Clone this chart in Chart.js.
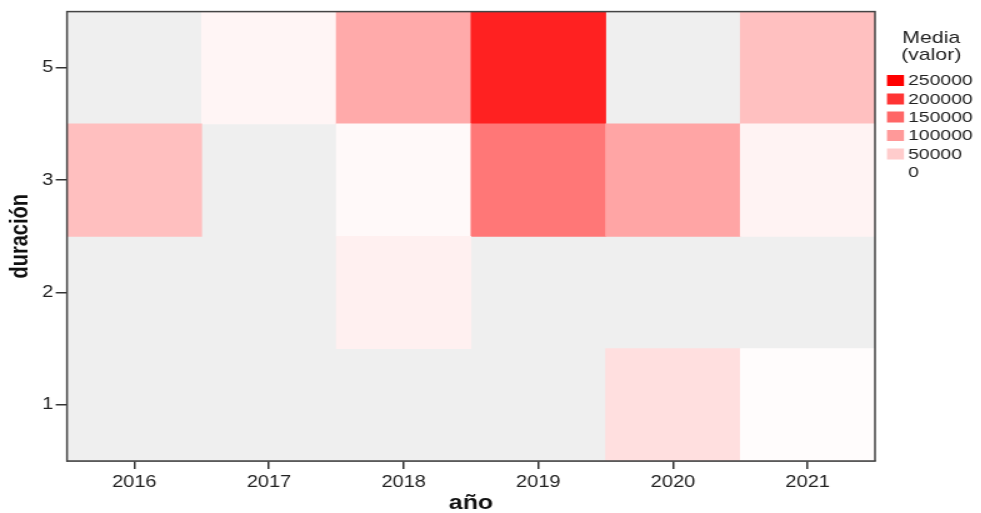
<!DOCTYPE html>
<html><head><meta charset="utf-8">
<script src="https://cdn.jsdelivr.net/npm/chart.js@4"></script>
<style>
html,body{margin:0;padding:0;background:#fff;overflow:hidden}
#wrap{width:785px;height:513px;transform:scaleX(1.25);transform-origin:0 0}
</style>
</head><body><div id="wrap"><canvas id="c" width="785" height="513" style="width:785px;height:513px"></canvas></div>
<script>
const years = ['2016','2017','2018','2019','2020','2021'];
const durations = ['1','2','3','5'];
// Media (valor) per duration row; null = no data
const dur1 = [null, null, null, null, 31000, 3000];
const dur2 = [null, null, 15000, null, null, null];
const dur3 = [63000, null, 6000, 133000, 88000, 12000];
const dur5 = [null, 10000, 83000, 218000, null, 62000];
const legendValues = [250000, 200000, 150000, 100000, 50000, 0];
const maxValue = 250000;

const rows = [dur1, dur2, dur3, dur5];
function colorFor(v){
  const t = Math.max(0, Math.min(1, v / maxValue));
  const g = Math.round(255 * (1 - t));
  return 'rgb(255,' + g + ',' + g + ')';
}
const datasets = rows.map((vals, r) => ({
  label: durations[r],
  data: vals.map(v => v === null ? null : [r, r + 1]),
  backgroundColor: vals.map(v => v === null ? 'rgba(0,0,0,0)' : colorFor(v)),
  borderWidth: 0,
  barPercentage: 1,
  categoryPercentage: 1,
  grouped: false
}));

const FONT = "'Liberation Sans', Arial, sans-serif";
const bgPlugin = {
  id: 'bg',
  beforeDatasetsDraw(chart){
    const {ctx, chartArea: a} = chart;
    ctx.save(); ctx.fillStyle = '#efefef';
    ctx.fillRect(a.left, a.top, a.right - a.left, a.bottom - a.top);
    ctx.restore();
  },
  afterDraw(chart){
    const {ctx, chartArea: a} = chart;
    ctx.save();
    ctx.strokeStyle = '#444'; ctx.lineWidth = 1.5;
    ctx.strokeRect(a.left, a.top, a.right - a.left, a.bottom - a.top);
    // legend
    ctx.fillStyle = '#222';
    ctx.font = '17px ' + FONT;
    ctx.textAlign = 'center'; ctx.textBaseline = 'middle';
    ctx.fillText('Media', 745, 38);
    ctx.fillText('(valor)', 745, 55);
    ctx.font = '15.5px ' + FONT;
    ctx.textAlign = 'left';
    const ys = [80.5, 99, 117, 135.5, 154, 172.5];
    legendValues.forEach((v, i) => {
      ctx.fillStyle = colorFor(v);
      ctx.fillRect(709.6, ys[i] - 5.5, 13.6, 11);
      ctx.fillStyle = '#222';
      ctx.fillText(String(v), 726.5, ys[i] + 0.5);
    });
    ctx.restore();
  }
};

new Chart(document.getElementById('c'), {
  type: 'bar',
  data: { labels: years, datasets },
  plugins: [bgPlugin],
  options: {
    responsive: false,
    animation: false,
    devicePixelRatio: 1,
    layout: { padding: { top: 11, right: 85, left: 0, bottom: 0 } },
    plugins: { legend: { display: false }, tooltip: { enabled: false } },
    scales: {
      x: {
        type: 'category',
        offset: true,
        grid: { display: true, drawOnChartArea: false, drawTicks: true, tickLength: 8, color: '#333', offset: false, lineWidth: 1.5 },
        border: { display: true, color: '#444', width: 1.5 },
        ticks: { color: '#222', font: { family: FONT, size: 16 }, padding: 4, maxRotation: 0 },
        title: { display: true, text: 'año', color: '#111', font: { family: FONT, size: 20, weight: 'bold', lineHeight: 1 }, padding: { top: 0, bottom: 0 } },
        afterFit(s){ s.height = 52; }
      },
      y: {
        type: 'linear',
        min: 0, max: 4,
        afterBuildTicks(s){ s.ticks = [0.5, 1.5, 2.5, 3.5].map(v => ({ value: v })); },
        grid: { display: true, drawOnChartArea: false, drawTicks: true, tickLength: 9, color: '#333', lineWidth: 1.5 },
        border: { display: true, color: '#444', width: 1.5 },
        ticks: { color: '#222', font: { family: FONT, size: 16 }, padding: 2,
          callback: (v, i) => durations[i] },
        title: { display: true, text: 'duración', color: '#111', font: { family: FONT, size: 20, weight: 'bold' }, padding: { top: 4, bottom: 0 } },
        afterFit(s){ s.width = 53.6; }
      }
    }
  }
});
</script></body></html>
